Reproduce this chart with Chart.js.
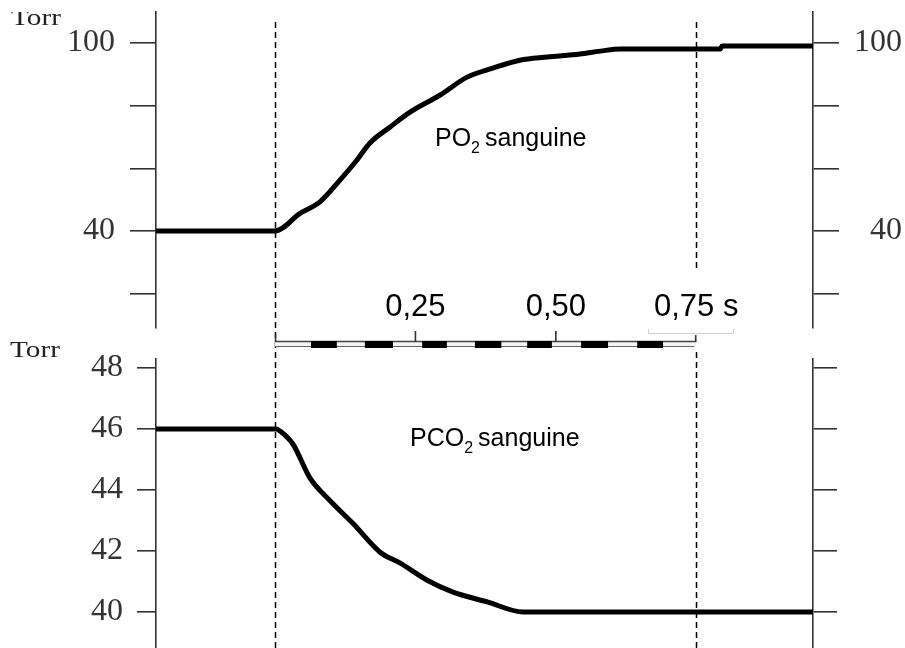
<!DOCTYPE html>
<html><head><meta charset="utf-8">
<script src="https://cdn.jsdelivr.net/npm/chart.js@4"></script>
<style>
html,body{margin:0;padding:0;background:#fff;}
#wrap{position:relative;width:905px;height:648px;overflow:hidden;background:#fff;}
canvas{position:absolute;left:0;top:0;}
</style></head><body>
<div id="wrap"><canvas id="cTop" width="905" height="648"></canvas><canvas id="cBot" width="905" height="648"></canvas></div>
<script>
// ---- data ----
const timeMin = -0.212, timeMax = 0.958;
const po2Times  = [-0.212, 0, 0.045, 0.080, 0.116, 0.143, 0.169, 0.205, 0.241, 0.294, 0.342, 0.388, 0.436, 0.485, 0.543, 0.579, 0.615, 0.793, 0.796, 0.958];
const po2Values = [40, 40, 45.7, 49.3, 56.3, 62.0, 68.1, 73.2, 78.0, 83.4, 89.1, 92.0, 94.5, 95.5, 96.5, 97.4, 98.1, 98.1, 99.0, 99.0];
const pco2Times  = [-0.212, 0.002, 0.009, 0.032, 0.062, 0.098, 0.139, 0.187, 0.223, 0.271, 0.317, 0.378, 0.442, 0.958];
const pco2Values = [46, 46, 45.93, 45.5, 44.4, 43.65, 42.9, 41.96, 41.6, 41.04, 40.65, 40.33, 40.0, 40.0];
const po2Ticks = [20, 40, 60, 80, 100];
const po2TickLabels = [40, 100];
const pco2Ticks = [40, 42, 44, 46, 48];
const pco2TickLabels = [40, 42, 44, 46, 48];
const timeTickValues = [0.25, 0.5];
const timeLabelValues = [0.25, 0.5, 0.75];
const timeLabelTexts = ['0,25', '0,50', '0,75 s'];
const markerTimes = [0, 0.75];
const barBlocks = [[0.064,0.110],[0.160,0.210],[0.262,0.306],[0.356,0.403],[0.449,0.493],[0.545,0.593],[0.645,0.691]];
const barStart = 0, barEnd = 0.75;

const AX = '#333';
function pts(t, v){ return t.map((x,i)=>({x:x, y:v[i]})); }

function drawSub(ctx, x, y, main, sub, rest, size){
  ctx.fillStyle = '#000';
  ctx.textAlign = 'left'; ctx.textBaseline = 'alphabetic';
  ctx.font = size + 'px "Liberation Sans", Arial, sans-serif';
  ctx.fillText(main, x, y);
  x += ctx.measureText(main).width;
  ctx.font = Math.round(size*0.64) + 'px "Liberation Sans", Arial, sans-serif';
  ctx.fillText(sub, x, y + 7);
  x += ctx.measureText(sub).width + 5;
  ctx.font = size + 'px "Liberation Sans", Arial, sans-serif';
  ctx.fillText(rest, x, y);
}
function drawTorr(ctx, x, y, clipTop){
  ctx.save();
  if (clipTop !== undefined){ ctx.beginPath(); ctx.rect(0, clipTop, 200, 60); ctx.clip(); }
  ctx.fillStyle = '#222';
  ctx.font = '24px "Liberation Serif", "Times New Roman", serif';
  ctx.textAlign = 'left'; ctx.textBaseline = 'alphabetic';
  ctx.translate(x, y); ctx.scale(1.22, 1);
  ctx.fillText('Torr', 0, 0);
  ctx.restore();
}

function yAxis(pos, min, max, ticks, labels, width, tickLen, pad, far){
  return {
    type: 'linear', position: pos, min: min, max: max,
    afterBuildTicks: s => { s.ticks = ticks.map(v => ({value: v})); },
    afterFit: s => { s.width = width; s.paddingTop = 0; s.paddingBottom = 0; s.paddingLeft = 0; s.paddingRight = 0; },
    grid: { drawOnChartArea: false, drawTicks: true, tickLength: tickLen, color: AX, lineWidth: 1.6 },
    border: { display: true, color: AX, width: 1.6 },
    ticks: {
      padding: pad, color: '#333', crossAlign: far ? 'far' : 'near',
      font: { family: '"Liberation Serif", "Times New Roman", serif', size: 32 },
      callback: v => labels.includes(v) ? String(v) : ''
    }
  };
}

const topDecor = {
  id: 'topDecor',
  beforeDatasetsDraw(chart){
    const ctx = chart.ctx, xs = chart.scales.x;
    ctx.save();
    ctx.strokeStyle = '#000'; ctx.lineWidth = 1.5; ctx.setLineDash([6,4]);
    const x0 = Math.round(xs.getPixelForValue(markerTimes[0])) + 0.5;
    const x1 = Math.round(xs.getPixelForValue(markerTimes[1])) + 0.5;
    ctx.beginPath(); ctx.moveTo(x0, 22); ctx.lineTo(x0, 648); ctx.stroke();
    ctx.beginPath(); ctx.moveTo(x1, 22); ctx.lineTo(x1, 272); ctx.moveTo(x1, 352); ctx.lineTo(x1, 648); ctx.stroke();
    ctx.restore();
  },
  afterDraw(chart){
    const ctx = chart.ctx, xs = chart.scales.x;
    ctx.save();
    const bs = xs.getPixelForValue(barStart), be = xs.getPixelForValue(barEnd);
    ctx.strokeStyle = '#d0d0d0'; ctx.lineWidth = 1;
    ctx.beginPath(); ctx.moveTo(648.5, 329); ctx.lineTo(648.5, 333.5); ctx.lineTo(733.5, 333.5); ctx.lineTo(733.5, 329); ctx.stroke();
    ctx.fillStyle = '#f4f4f4'; ctx.fillRect(bs, 341, be - bs, 5);
    ctx.strokeStyle = '#444'; ctx.lineWidth = 1.3;
    ctx.beginPath(); ctx.moveTo(bs, 341.5); ctx.lineTo(be, 341.5); ctx.stroke();
    ctx.strokeStyle = '#666'; ctx.lineWidth = 1.2;
    ctx.beginPath(); ctx.moveTo(bs, 346.5); ctx.lineTo(be - 2, 346.5); ctx.stroke();
    ctx.fillStyle = '#000';
    barBlocks.forEach(b => {
      const a = xs.getPixelForValue(b[0]), c = xs.getPixelForValue(b[1]);
      ctx.fillRect(a, 341, c - a, 7);
    });
    ctx.strokeStyle = '#333'; ctx.lineWidth = 1.6;
    ctx.beginPath();
    ctx.moveTo(bs + 0.5, 335); ctx.lineTo(bs + 0.5, 342);
    ctx.moveTo(be - 0.5, 335); ctx.lineTo(be - 0.5, 342);
    timeTickValues.forEach(t => { const p = xs.getPixelForValue(t); ctx.moveTo(p, 331); ctx.lineTo(p, 342); });
    ctx.stroke();
    ctx.fillStyle = '#000'; ctx.font = '31px "Liberation Sans", Arial, sans-serif';
    ctx.textAlign = 'center'; ctx.textBaseline = 'alphabetic';
    timeLabelValues.forEach((t, i) => ctx.fillText(timeLabelTexts[i], xs.getPixelForValue(t), 316));
    ctx.restore();
    drawTorr(ctx, 11, 25, 12);
    ctx.save(); drawSub(ctx, 435, 146, 'PO', '2', 'sanguine', 25); ctx.restore();
  }
};

const botDecor = {
  id: 'botDecor',
  afterDraw(chart){
    const ctx = chart.ctx;
    drawTorr(ctx, 10, 357);
    ctx.save(); drawSub(ctx, 410, 446, 'PCO', '2', 'sanguine', 25); ctx.restore();
  }
};

const common = { responsive: false, animation: false, devicePixelRatio: 1,
  plugins: { legend: { display: false }, tooltip: { enabled: false } } };

new Chart(document.getElementById('cTop'), {
  type: 'line',
  data: { datasets: [{ data: pts(po2Times, po2Values), borderColor: '#000', borderWidth: 5,
    pointRadius: 0, cubicInterpolationMode: 'monotone', borderCapStyle: 'butt', borderJoinStyle: 'round' }] },
  options: Object.assign({}, common, {
    layout: { padding: { left: 0, right: 3, top: 12, bottom: 320 } },
    scales: {
      x: { type: 'linear', min: timeMin, max: timeMax, display: false },
      y: yAxis('left', 9.04, 109.89, po2Ticks, po2TickLabels, 156, 26, 15, false),
      y2: yAxis('right', 9.04, 109.89, po2Ticks, po2TickLabels, 89, 26, 0, true)
    }
  }),
  plugins: [topDecor]
});

new Chart(document.getElementById('cBot'), {
  type: 'line',
  data: { datasets: [{ data: pts(pco2Times, pco2Values), borderColor: '#000', borderWidth: 5,
    pointRadius: 0, cubicInterpolationMode: 'monotone', borderCapStyle: 'butt', borderJoinStyle: 'round' }] },
  options: Object.assign({}, common, {
    layout: { padding: { left: 0, right: 3, top: 359, bottom: 0 } },
    scales: {
      x: { type: 'linear', min: timeMin, max: timeMax, display: false },
      y: yAxis('left', 38.82, 48.295, pco2Ticks, pco2TickLabels, 156, 19, 14, false),
      y2: yAxis('right', 38.82, 48.295, pco2Ticks, [], 89, 24, 0, true)
    }
  }),
  plugins: [botDecor]
});
</script>
</body></html>
